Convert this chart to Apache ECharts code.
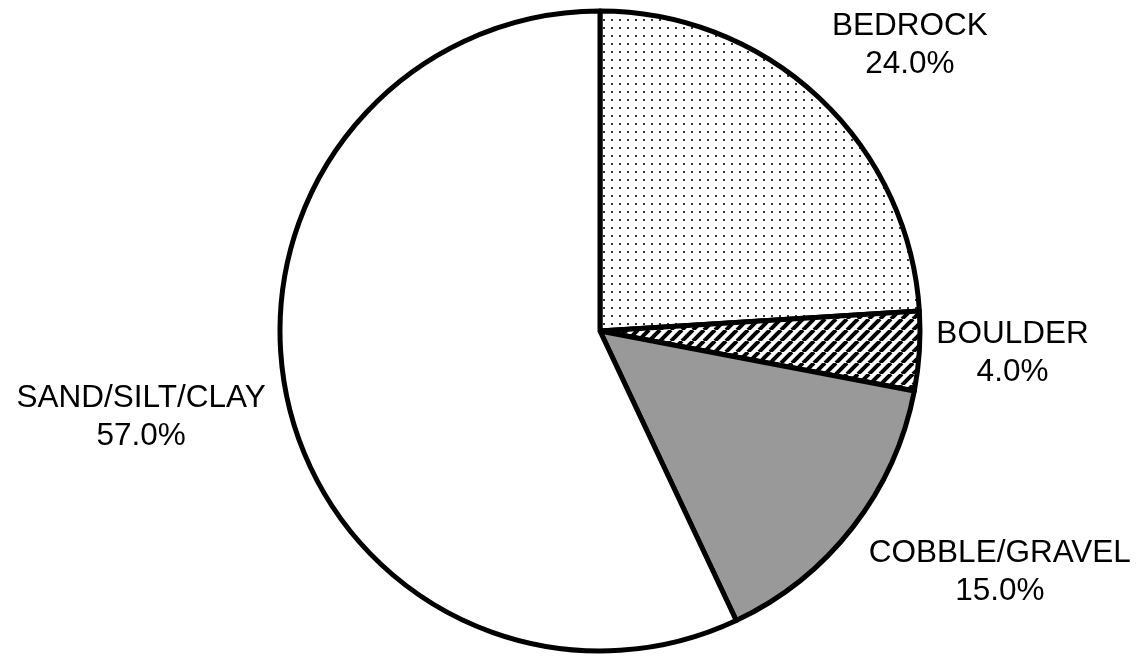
<!DOCTYPE html>
<html>
<head>
<meta charset="utf-8">
<script src="https://cdn.jsdelivr.net/npm/echarts@6/dist/echarts.min.js"></script>
<style>
  html, body { margin: 0; padding: 0; background: #fff; }
  #chart { width: 1140px; height: 656px; }
</style>
</head>
<body>
<div id="chart"></div>
<script>
  const categories = ["BEDROCK", "BOULDER", "COBBLE/GRAVEL", "SAND/SILT/CLAY"];
  const shares = [24, 4, 15, 57];

  // fill patterns
  const dotPattern = () => {
    const c = document.createElement("canvas");
    c.width = 8;
    c.height = 8;
    const g = c.getContext("2d");
    g.fillStyle = "#fff";
    g.fillRect(0, 0, 8, 8);
    g.fillStyle = "#333";
    g.fillRect(3, 3, 2, 2);
    return c;
  };
  const hatchPattern = () => {
    const c = document.createElement("canvas");
    c.width = 11;
    c.height = 11;
    const g = c.getContext("2d");
    g.fillStyle = "#fff";
    g.fillRect(0, 0, 11, 11);
    g.strokeStyle = "#000";
    g.lineWidth = 4;
    [-11, 0, 11].forEach((ox) => {
      g.beginPath();
      g.moveTo(ox, 11);
      g.lineTo(ox + 11, 0);
      g.stroke();
    });
    return c;
  };

  const fills = [
    { image: dotPattern(), repeat: "repeat" },
    { image: hatchPattern(), repeat: "repeat" },
    "#999999",
    "#ffffff"
  ];

  // nudges of each label from its default outside spot
  const labelShift = [
    [8, -52],
    [12, 2],
    [11, 45],
    [-17, 17]
  ];

  const chart = echarts.init(document.getElementById("chart"));
  chart.setOption({
    backgroundColor: "#fff",
    animation: false,
    series: [
      {
        type: "pie",
        center: [600, 331],
        radius: [0, 320],
        startAngle: 90,
        clockwise: true,
        avoidLabelOverlap: false,
        emphasis: { disabled: true },
        itemStyle: { borderColor: "#000", borderWidth: 5 },
        label: {
          show: true,
          position: "outside",
          color: "#000",
          fontFamily: "Liberation Sans",
          fontSize: 31.5,
          lineHeight: 38,
          formatter: (p) => p.name + "\n" + p.percent.toFixed(1) + "%"
        },
        labelLine: { show: false, length: 0, length2: 0 },
        labelLayout: (p) => {
          const r = p.labelRect;
          const s = labelShift[p.dataIndex];
          return {
            x: r.x + r.width / 2 + s[0],
            y: r.y + r.height / 2 + s[1],
            align: "center",
            verticalAlign: "middle"
          };
        },
        data: categories.map((name, i) => ({
          name: name,
          value: shares[i],
          itemStyle: { color: fills[i] }
        }))
      }
    ]
  });
</script>
</body>
</html>
